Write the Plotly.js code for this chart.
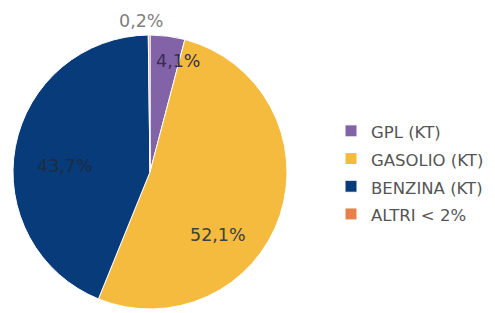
<!DOCTYPE html>
<html>
<head>
<meta charset="utf-8">
<script src="https://cdn.plot.ly/plotly-3.0.1.min.js"></script>
<style>html,body{margin:0;padding:0;background:#fff;}#chart{width:495px;height:313px;}</style>
</head>
<body>
<div id="chart"></div>
<script>
// Data (percent shares)
const labels = ["GPL (KT)", "GASOLIO (KT)", "BENZINA (KT)", "ALTRI < 2%"];
const shares = [4.1, 52.1, 43.7, 0.2];
const colors = ["#8263A8", "#F5BB3E", "#073B7A", "#E8804A"];

const W = 495, H = 313;
const cx = 150, cy = 172, r = 137;

// label placement (pixel positions of the percentage labels, chart layout only)
const labelPos = [[178, 61], [218, 235], [65, 166], [141, 21]];
const labelColor = ["#3a2d52", "#404040", "#1c2c44", "#808080"];

const FONT = "'DejaVu Sans', 'Liberation Sans', sans-serif";

const trace = {
  type: "pie",
  labels: labels.map(l => '<span style="font-size:16.5px">' + l + '</span>'),
  values: shares,
  sort: false,
  direction: "clockwise",
  rotation: 0,
  marker: { colors: colors, line: { color: "#ffffff", width: 1 } },
  textinfo: "none",
  hoverinfo: "label+value",
  domain: {
    x: [(cx - r) / W, (cx + r) / W],
    y: [(H - cy - r) / H, (H - cy + r) / H]
  }
};

const annotations = shares.map((v, i) => ({
  xref: "paper", yref: "paper",
  x: labelPos[i][0] / W, y: 1 - labelPos[i][1] / H,
  xanchor: "center", yanchor: "middle",
  text: v.toFixed(1).replace(".", ",") + "%",
  showarrow: false,
  font: { family: FONT, size: 17.5, color: labelColor[i] }
}));

const layout = {
  width: W,
  height: H,
  margin: { l: 0, r: 0, t: 0, b: 0 },
  paper_bgcolor: "#ffffff",
  separators: ",.",
  showlegend: true,
  annotations: annotations,
  legend: {
    x: 331 / W, y: 1 - 112 / H, xanchor: "left", yanchor: "top",
    font: { family: FONT, size: 19, color: "#555555" },
    itemwidth: 30,
    traceorder: "normal"
  }
};

Plotly.newPlot("chart", [trace], layout, { displayModeBar: false, staticPlot: true });
</script>
</body>
</html>
